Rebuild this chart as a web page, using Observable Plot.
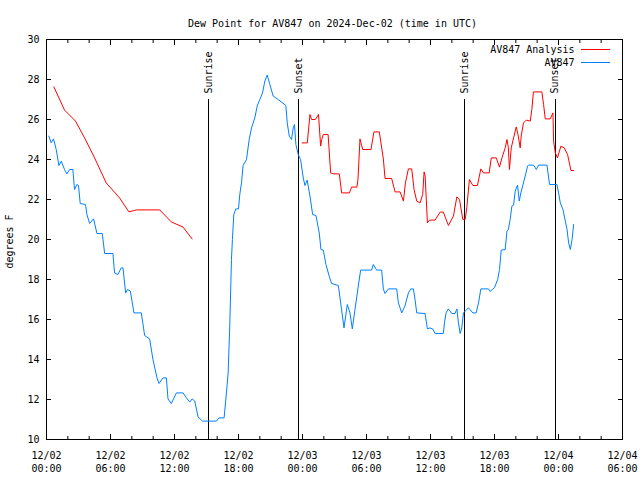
<!DOCTYPE html>
<html><head><meta charset="utf-8">
<script src="https://cdn.jsdelivr.net/npm/d3@7"></script>
<script src="https://cdn.jsdelivr.net/npm/@observablehq/plot@0.6"></script>
<style>body{margin:0;background:#fff}</style>
</head><body><div id="chart"></div>
<script>
const titleText = "Dew Point for AV847 on 2024-Dec-02 (time in UTC)";
const yLabelText = "degrees F";
const seriesNames = ["AV847 Analysis", "AV847"];
const seriesColors = ["#ff0000", "#0080ff"];
const startTime = "2024-12-02T00:00:00Z";
const endTime = "2024-12-04T06:00:00Z";

// hours after 12/02 00:00 UTC, dew point °F
const analysisHours1 = [0.69,1.69,2.72,3.57,4.51,5.6,6.85,7.73,8.42,10.61,11.7,12.8,13.65];
const analysisValues1 = [27.63,26.47,25.92,25.08,24.08,22.83,22.08,21.38,21.48,21.48,20.88,20.62,20.03];

const analysisHours2 = [23.97,24.45,24.7,24.85,25.2,25.5,25.7,25.8,25.95,26.4,26.64,26.95,27.45,27.67,28.4,28.6,29.1,29.2,29.39,29.64,30.42,30.7,31.2,31.58,31.74,32.36,32.68,33.15,33.46,33.65,33.93,34.24,34.46,34.71,35.02,35.27,35.4,35.5,35.71,35.9,36.43,36.9,37.2,37.68,38.15,38.47,38.72,39.03,39.25,39.4,39.65,39.97,40.4,40.72,40.96,41.5,41.7,42.16,42.47,42.7,43.0,43.17,43.3,43.4,43.57,43.79,44.04,44.2,44.41,44.5,44.72,44.98,45.35,45.5,45.65,46.44,46.6,46.76,47.23,47.48,47.54,47.7,47.9,48.23,48.54,48.85,49.17,49.42];
const analysisValues2 = [24.83,24.83,26.25,26.0,26.0,26.25,24.67,25.0,25.25,25.25,23.33,23.28,23.28,22.33,22.33,22.62,22.62,23.0,25.03,24.5,24.5,25.38,25.38,24.03,23.05,23.05,22.38,22.38,21.92,22.83,23.53,23.53,22.5,21.92,21.83,22.25,23.38,23.17,20.83,20.97,20.97,21.37,21.37,20.7,21.17,22.13,22.0,21.0,21.0,21.58,23.0,22.7,22.7,23.53,23.33,23.33,24.08,24.08,23.62,24.08,24.58,25.0,24.6,23.5,24.58,25.08,25.63,25.25,24.58,25.17,25.83,25.97,25.92,26.5,27.38,27.38,26.75,26.03,26.03,26.33,24.92,24.33,24.08,24.67,24.58,24.25,23.45,23.45];

const obsHours = [0.22,0.44,0.66,0.91,1.16,1.38,1.69,1.91,2.16,2.47,2.63,2.85,3.0,3.16,3.66,3.79,4.04,4.41,4.73,5.23,5.45,6.23,6.38,6.7,7.0,7.17,7.42,7.6,7.86,8.2,8.89,9.2,9.67,9.98,10.36,10.55,10.92,11.24,11.39,11.7,12.18,12.8,13.12,13.43,13.65,13.9,14.21,14.62,15.93,16.18,16.65,16.8,17.03,17.18,17.34,17.43,17.56,17.75,18.0,18.12,18.28,18.43,18.75,19.0,19.22,19.53,19.75,20.0,20.25,20.47,20.69,20.94,21.25,21.72,22.44,22.57,22.76,22.97,23.13,23.25,23.38,23.6,23.82,24.07,24.23,24.44,24.7,24.95,25.26,25.57,25.73,25.95,26.2,26.5,26.73,27.36,27.58,27.89,28.2,28.45,28.67,28.92,29.23,29.45,30.48,30.64,30.95,31.42,31.58,31.74,32.05,32.83,32.99,33.3,33.6,33.93,34.15,34.4,34.55,34.71,35.49,35.71,35.95,36.2,36.43,37.2,37.31,37.46,37.68,38.0,38.3,38.47,38.62,38.78,38.93,39.09,39.25,39.56,39.97,40.28,40.5,40.72,41.43,41.6,42.0,42.3,42.47,42.63,43.0,43.17,43.3,43.47,43.63,43.79,43.94,44.16,44.32,44.47,44.66,44.88,45.1,45.19,45.66,45.92,46.13,46.92,47.16,47.85,48.01,48.17,48.42,48.64,48.8,48.95,49.11,49.27,49.42];
const obsValues = [25.17,24.83,25.03,24.5,23.7,23.92,23.5,23.28,23.5,23.5,22.5,22.75,22.7,21.8,21.75,21.25,20.8,21.03,20.3,20.3,19.3,19.3,18.33,18.25,18.58,18.58,17.33,17.5,17.42,16.33,16.33,15.2,15.03,14.0,13.08,12.8,13.08,13.08,12.03,11.8,12.33,12.33,12.08,11.87,12.03,11.92,11.13,10.92,10.92,11.08,11.08,11.92,13.33,15.67,19.0,20.0,21.25,21.53,21.53,22.25,22.83,23.7,24.0,25.0,25.58,26.08,26.67,27.0,27.33,27.92,28.22,27.75,27.17,27.0,26.7,25.83,25.17,25.0,25.58,25.75,24.75,24.25,24.0,23.08,22.7,22.97,22.17,21.25,21.2,20.33,19.5,19.47,18.75,18.17,17.8,17.7,16.83,15.58,16.75,16.33,15.53,16.5,17.67,18.47,18.47,18.75,18.47,18.47,17.53,17.3,17.53,17.53,16.83,16.33,16.67,17.33,17.53,17.53,17.0,16.33,16.3,15.53,15.58,15.53,15.3,15.3,15.83,16.33,16.53,16.3,16.3,16.53,15.83,15.3,15.58,16.33,16.42,16.58,16.33,16.33,16.83,17.53,17.53,17.4,17.6,18.0,18.5,19.47,19.5,20.42,20.5,21.0,21.67,21.72,22.42,22.72,21.92,22.33,22.72,23.17,23.67,23.72,23.72,23.5,23.72,23.72,22.75,22.75,22.33,21.83,21.5,20.92,20.5,19.83,19.5,20.0,20.75];

const sunEventNames = ["Sunrise", "Sunset", "Sunrise", "Sunset"];
const sunEventTimes = ["2024-12-02T15:14:00Z", "2024-12-02T23:40:00Z", "2024-12-03T15:14:00Z", "2024-12-03T23:41:00Z"];

const xMajorTickTimes = ["2024-12-02T00:00Z","2024-12-02T06:00Z","2024-12-02T12:00Z","2024-12-02T18:00Z","2024-12-03T00:00Z","2024-12-03T06:00Z","2024-12-03T12:00Z","2024-12-03T18:00Z","2024-12-04T00:00Z","2024-12-04T06:00Z"];
const xMinorStepHours = 2;
const yTicks = [10,12,14,16,18,20,22,24,26,28,30];

const t0 = new Date(startTime).getTime();
const toDate = h => new Date(t0 + h * 3600000);

const analysis = [
  ...analysisHours1.map((h, i) => ({t: toDate(h), v: analysisValues1[i], seg: 1})),
  ...analysisHours2.map((h, i) => ({t: toDate(h), v: analysisValues2[i], seg: 2}))
];
const obs = obsHours.map((h, i) => ({t: toDate(h), v: obsValues[i]}));
const sunEvents = sunEventNames.map((n, i) => ({name: n, t: new Date(sunEventTimes[i])}));
const xMajor = xMajorTickTimes.map(s => new Date(s));
const xMinor = d3.utcHour.every(xMinorStepHours).range(new Date(startTime), new Date(endTime));
const fmt = d3.utcFormat("%m/%d\n%H:%M");

const chart = Plot.plot({
  width: 640, height: 480,
  marginLeft: 46, marginRight: 18, marginTop: 39, marginBottom: 41,
  style: {fontFamily: "'DejaVu Sans Mono', monospace", fontSize: "10px", background: "#fff", color: "#000"},
  x: {type: "utc", domain: [new Date(startTime), new Date(endTime)]},
  y: {domain: [10, 30]},
  marks: [
    Plot.axisX(xMinor, {anchor: "bottom", tickSize: -3, tickFormat: () => "", label: null}),
    Plot.axisX(xMajor, {anchor: "bottom", tickSize: -5, tickPadding: 15, tickFormat: d => fmt(d), lineHeight: 1.3, label: null}),
    Plot.axisX(xMinor, {anchor: "top", tickSize: -3, tickFormat: () => "", label: null}),
    Plot.axisX(xMajor, {anchor: "top", tickSize: -5, tickFormat: () => "", label: null}),
    Plot.axisY(yTicks, {anchor: "left", tickSize: -5, tickPadding: 12, label: null}),
    Plot.axisY(yTicks, {anchor: "right", tickSize: -5, tickFormat: () => "", label: null}),
    Plot.ruleX(sunEvents, {x: "t", insetTop: 60, stroke: "#000", strokeWidth: 1, shapeRendering: "crispEdges"}),
    Plot.text(sunEvents, {x: "t", text: "name", frameAnchor: "top", dy: 54, rotate: -90, textAnchor: "start", lineAnchor: "middle", fill: "#000"}),
    Plot.line(obs, {x: "t", y: "v", stroke: seriesColors[1], strokeWidth: 1}),
    Plot.line(analysis, {x: "t", y: "v", z: "seg", stroke: seriesColors[0], strokeWidth: 1}),
    Plot.text([seriesNames[0]], {frameAnchor: "top-right", dx: -48, dy: 10, textAnchor: "end", lineAnchor: "middle", fill: "#000"}),
    Plot.text([seriesNames[1]], {frameAnchor: "top-right", dx: -48, dy: 23, textAnchor: "end", lineAnchor: "middle", fill: "#000"}),
    Plot.text([titleText], {frameAnchor: "top", dx: -2, dy: -16, textAnchor: "middle", lineAnchor: "middle", fill: "#000"}),
    Plot.text([yLabelText], {frameAnchor: "left", dx: -37, dy: 2, rotate: -90, textAnchor: "middle", lineAnchor: "middle", fill: "#000"}),
    Plot.frame({stroke: "#000", strokeWidth: 1, shapeRendering: "crispEdges"})
  ]
});

// legend line samples
const svg = d3.select(chart);
[49.5, 62].forEach((y, i) => {
  svg.append("line").attr("x1", 581).attr("x2", 610).attr("y1", y).attr("y2", y)
    .attr("stroke", seriesColors[i]).attr("stroke-width", 1).attr("shape-rendering", "crispEdges");
});
document.getElementById("chart").appendChild(chart);
</script>
</body></html>
